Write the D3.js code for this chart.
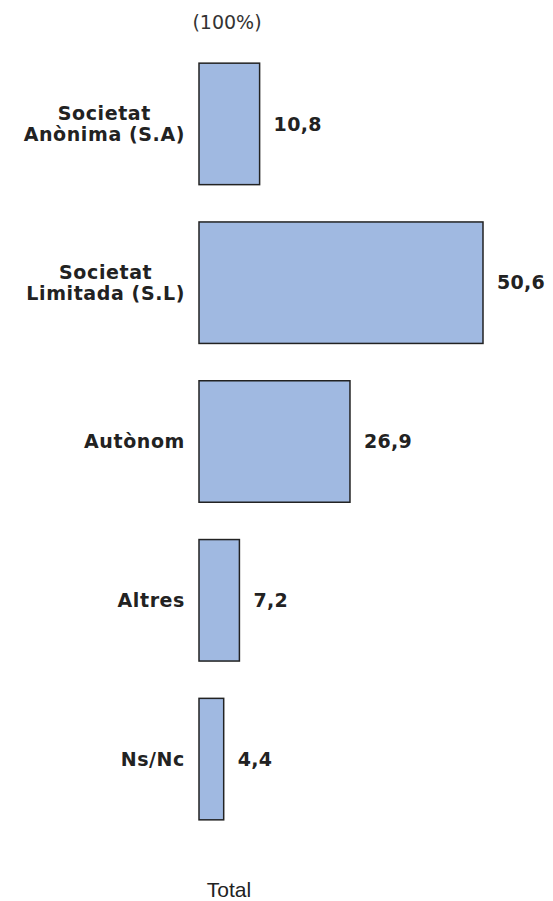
<!DOCTYPE html>
<html>
<head>
<meta charset="utf-8">
<script src="https://cdn.jsdelivr.net/npm/d3@7"></script>
<style>
  html, body { margin: 0; padding: 0; background: #fff; }
  svg { display: block; }
</style>
</head>
<body>
<svg id="chart" width="553" height="901"></svg>
<script>
const categories = [
  ["Societat", "Anònima (S.A)"],
  ["Societat", "Limitada (S.L)"],
  ["Autònom"],
  ["Altres"],
  ["Ns/Nc"]
];
const values = [10.8, 50.6, 26.9, 7.2, 4.4];
const valueLabels = ["10,8", "50,6", "26,9", "7,2", "4,4"];
const headerLabel = "(100%)";
const seriesLabel = "Total";

const svg = d3.select("#chart");
const keys = categories.map((c, i) => i);

const x = d3.scaleLinear().domain([0, d3.max(values)]).range([199, 483]);
const y = d3.scaleBand().domain(keys).range([44.5, 838.5]).paddingInner(0.235).paddingOuter(0.1175);

const labelFont = "'DejaVu Sans', Verdana, sans-serif";

svg.append("text")
  .attr("x", 227).attr("y", 29)
  .attr("text-anchor", "middle")
  .attr("font-family", labelFont)
  .attr("font-size", 19)
  .attr("fill", "#333")
  .text(headerLabel);

svg.selectAll("rect.bar").data(values).enter().append("rect")
  .attr("class", "bar")
  .attr("x", x(0))
  .attr("y", (d, i) => y(i))
  .attr("width", d => x(d) - x(0))
  .attr("height", y.bandwidth())
  .attr("fill", "#a0b9e1")
  .attr("stroke", "#222")
  .attr("stroke-width", 1.5);

svg.selectAll("text.val").data(values).enter().append("text")
  .attr("class", "val")
  .attr("x", d => x(d) + 14)
  .attr("y", (d, i) => y(i) + y.bandwidth() / 2)
  .attr("dy", "0.35em")
  .attr("font-family", labelFont)
  .attr("font-weight", "bold")
  .attr("font-size", 19)
  .attr("letter-spacing", 0.3)
  .attr("fill", "#222")
  .text((d, i) => valueLabels[i]);

const rightEdge = 185;
const lineH = 21;
categories.forEach((lines, i) => {
  const g = svg.append("g");
  const cy = y(i) + y.bandwidth() / 2;
  const texts = lines.map((ln, j) => g.append("text")
    .attr("font-family", labelFont)
    .attr("font-weight", "bold")
    .attr("font-size", 19)
    .attr("letter-spacing", 0.6)
    .attr("fill", "#222")
    .attr("text-anchor", "middle")
    .attr("y", cy + (j - (lines.length - 1) / 2) * lineH)
    .attr("dy", "0.35em")
    .text(ln));
  const maxW = d3.max(texts, t => t.node().getComputedTextLength());
  texts.forEach(t => t.attr("x", rightEdge - maxW / 2));
});

svg.append("text")
  .attr("x", 229).attr("y", 897)
  .attr("text-anchor", "middle")
  .attr("font-family", "'Liberation Sans', Arial, sans-serif")
  .attr("font-size", 21)
  .attr("fill", "#222")
  .text(seriesLabel);
</script>
</body>
</html>
